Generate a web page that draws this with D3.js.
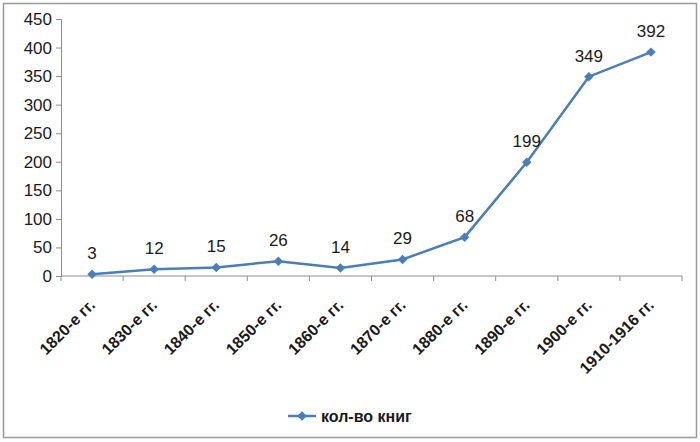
<!DOCTYPE html>
<html>
<head>
<meta charset="utf-8">
<script src="https://cdn.jsdelivr.net/npm/d3@7"></script>
<style>
  body { margin: 0; background: #fff; }
  text { font-family: "Liberation Sans", Arial, sans-serif; fill: #1a1a1a; }
</style>
</head>
<body>
<svg id="chart" width="700" height="442"></svg>
<script>
const categories = ["1820-е гг.", "1830-е гг.", "1840-е гг.", "1850-е гг.", "1860-е гг.",
  "1870-е гг.", "1880-е гг.", "1890-е гг.", "1900-е гг.", "1910-1916 гг."];
const books = [3, 12, 15, 26, 14, 29, 68, 199, 349, 392];
const yTicks = [0, 50, 100, 150, 200, 250, 300, 350, 400, 450];
const seriesName = "кол-во книг";

const lineColor = "#4a7dba";
const axisColor = "#8c8c8c";
const svg = d3.select("#chart");

// outer frame
svg.append("rect")
  .attr("x", 3.5).attr("y", 3.5)
  .attr("width", 693).attr("height", 434)
  .attr("fill", "#fff")
  .attr("stroke", "#9a9a9a")
  .attr("stroke-width", 1.5);

const plotLeft = 61, plotRight = 682, plotTop = 19, plotBottom = 276;

const x = d3.scaleBand().domain(categories).range([plotLeft, plotRight]);
const y = d3.scaleLinear().domain([0, 450]).range([plotBottom, plotTop]);

// y axis
const yAxis = svg.append("g")
  .attr("transform", `translate(${plotLeft},0)`)
  .call(d3.axisLeft(y).tickValues(yTicks).tickSize(5).tickPadding(4));
yAxis.selectAll("path, line").attr("stroke", axisColor);
yAxis.selectAll("text")
  .style("font-size", "17px")
  .style("font-family", "'Liberation Sans', Arial, sans-serif")
  .attr("fill", "#1a1a1a");

// x axis with ticks on band edges
const xAxisG = svg.append("g");
xAxisG.append("line")
  .attr("x1", plotLeft).attr("x2", plotRight)
  .attr("y1", plotBottom).attr("y2", plotBottom)
  .attr("stroke", axisColor);
const edges = categories.map((c) => x(c)).concat([plotRight]);
xAxisG.selectAll("line.tick")
  .data(edges)
  .enter()
  .append("line")
  .attr("class", "tick")
  .attr("x1", (d) => d).attr("x2", (d) => d)
  .attr("y1", plotBottom).attr("y2", plotBottom + 5)
  .attr("stroke", axisColor);

const cx = (d) => x(d) + x.bandwidth() / 2;

xAxisG.selectAll("text.cat")
  .data(categories)
  .enter()
  .append("text")
  .attr("class", "cat")
  .attr("transform", (d) => `translate(${cx(d) + 4},${plotBottom + 30}) rotate(-45)`)
  .attr("text-anchor", "end")
  .style("font-size", "16px")
  .style("font-weight", "bold")
  .attr("fill", "#2a2a2a")
  .text((d) => d);

// line
const line = d3.line()
  .x((d, i) => cx(categories[i]))
  .y((d) => y(d));

svg.append("path")
  .datum(books)
  .attr("d", line)
  .attr("fill", "none")
  .attr("stroke", lineColor)
  .attr("stroke-width", 2.5);

const diamond = d3.symbol().type(d3.symbolSquare).size(45);

svg.selectAll("path.marker")
  .data(books)
  .enter()
  .append("path")
  .attr("class", "marker")
  .attr("d", diamond)
  .attr("transform", (d, i) => `translate(${cx(categories[i])},${y(d)}) rotate(45)`)
  .attr("fill", lineColor);

// data labels
svg.selectAll("text.lbl")
  .data(books)
  .enter()
  .append("text")
  .attr("class", "lbl")
  .attr("x", (d, i) => cx(categories[i]))
  .attr("y", (d) => y(d) - 15)
  .attr("text-anchor", "middle")
  .style("font-size", "17px")
  .text((d) => d);

// legend
const legend = svg.append("g").attr("transform", "translate(288,416)");
legend.append("line")
  .attr("x1", 0).attr("x2", 28)
  .attr("stroke", lineColor).attr("stroke-width", 2.5);
legend.append("path")
  .attr("d", diamond)
  .attr("transform", "translate(14,0) rotate(45)")
  .attr("fill", lineColor);
legend.append("text")
  .attr("x", 33).attr("y", 6)
  .style("font-size", "16px")
  .style("font-weight", "bold")
  .attr("fill", "#2a2a2a")
  .text(seriesName);
</script>
</body>
</html>
